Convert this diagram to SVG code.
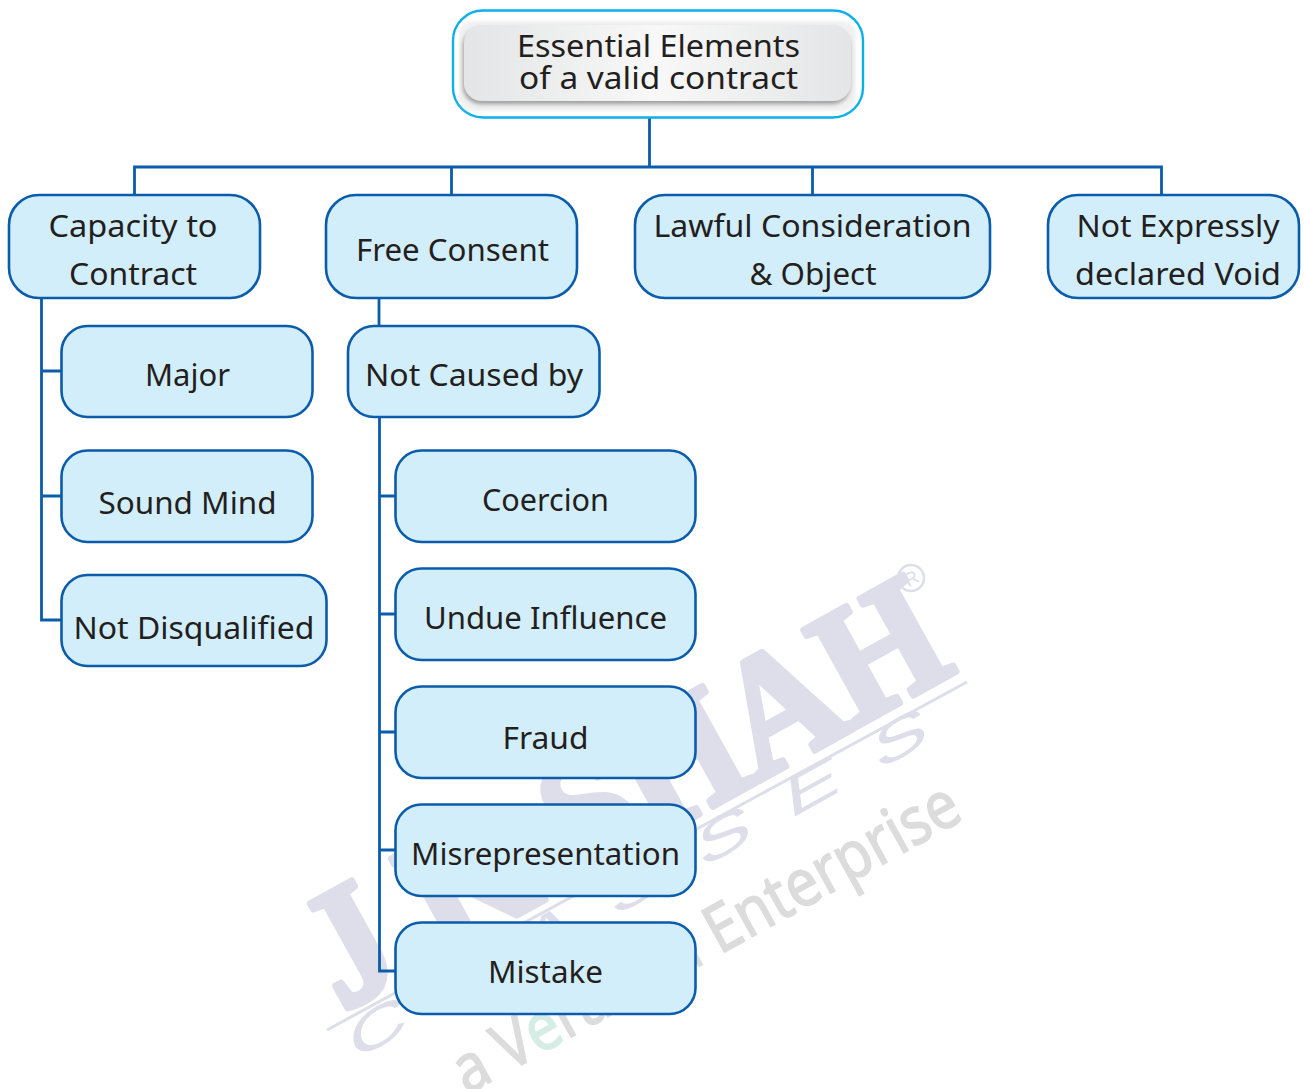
<svg xmlns="http://www.w3.org/2000/svg" width="1304" height="1089" viewBox="0 0 1304 1089">
<style>
.box{fill:#d3eefb;stroke:#0b5cab;stroke-width:2.6}
.t{font-family:"Noto Sans","DejaVu Sans",sans-serif;font-size:31px;fill:#231f20;text-anchor:middle}
.c{fill:none;stroke:#0b5cab;stroke-width:2.8}
.wm{font-family:"Liberation Serif",serif;font-weight:bold;font-size:168px;fill:#dedeea;stroke:#dedeea;stroke-width:7;stroke-linejoin:round}
.wm2{font-family:"Liberation Sans",sans-serif;font-size:62px;fill:#dedeea}
.wm3{font-family:"Noto Sans",sans-serif;font-size:66px;fill:#dcdcdc;stroke:#dcdcdc;stroke-width:1.5}
</style>
<defs>
<linearGradient id="g" x1="0" x2="1" y1="0" y2="0"><stop offset="0" stop-color="#e4e5e6"/><stop offset=".5" stop-color="#f8f8f8"/><stop offset="1" stop-color="#e4e5e6"/></linearGradient>
<filter id="s" x="-5%" y="-15%" width="110%" height="130%"><feDropShadow dx="-1" dy="3" stdDeviation="2" flood-color="#777" flood-opacity=".7"/></filter>
<filter id="b" x="-5%" y="-15%" width="110%" height="130%"><feGaussianBlur stdDeviation="1.5"/></filter>
</defs>
<rect width="1304" height="1089" fill="#fff"/>
<g id="watermark">
<g transform="translate(342,1012) rotate(-29)"><text class="wm" textLength="705" lengthAdjust="spacingAndGlyphs">J K SHAH</text></g>
<line x1="327" y1="1030" x2="967" y2="682" stroke="#dedeea" stroke-width="3"/>
<g transform="translate(352,1062) rotate(-29) skewX(-22) scale(1.45,.85)"><text class="wm2" textLength="455" lengthAdjust="spacing">CLASSES</text></g>
<g transform="translate(467,1095) rotate(-29)"><text class="wm3" textLength="570" lengthAdjust="spacingAndGlyphs">a V<tspan fill="#d5ede4" stroke="#d5ede4">e</tspan>randa Enterprise</text></g>
<circle cx="911" cy="578" r="13" fill="none" stroke="#dedeea" stroke-width="2.5"/>
<text x="911" y="585" font-family="Liberation Sans,sans-serif" font-size="19" fill="#dedeea" text-anchor="middle" transform="rotate(-29 911 578)">R</text>
</g>
<g id="connectors">
<path class="c" d="M649.500 117V167M134.500 195V167H1161.500V195M451.500 167V195M812.500 167V195"/>
<path class="c" d="M41.500 298V620H62M41.500 371H62M41.500 496H62"/>
<path class="c" d="M379 298V326M379.500 417V971H396M379.500 496H396M379.500 614H396M379.500 732H396M379.500 850H396"/>
</g>
<g id="root">
<rect x="453" y="10.500" width="410" height="107" rx="30" fill="#fff" stroke="#0db0e8" stroke-width="2.4"/>
<rect x="459" y="21" width="397" height="90" rx="14" fill="#f1f1f1" filter="url(#b)"/>
<rect x="464" y="25" width="387" height="76" rx="18" fill="url(#g)" filter="url(#s)"/>
<text class="t" x="658.500" y="57" textLength="283" lengthAdjust="spacingAndGlyphs">Essential Elements</text>
<text class="t" x="658.500" y="89" textLength="279" lengthAdjust="spacingAndGlyphs">of a valid contract</text>
</g>
<g id="capacity"><rect class="box" x="9" y="195" width="251" height="103" rx="30"/>
<text class="t" x="133" y="237" textLength="169" lengthAdjust="spacingAndGlyphs">Capacity to</text>
<text class="t" x="133" y="285" textLength="128" lengthAdjust="spacingAndGlyphs">Contract</text></g>
<g id="free"><rect class="box" x="326" y="195" width="251" height="103" rx="30"/>
<text class="t" x="452.500" y="261" textLength="193" lengthAdjust="spacingAndGlyphs">Free Consent</text></g>
<g id="lawful"><rect class="box" x="635" y="195" width="355" height="103" rx="30"/>
<text class="t" x="812.500" y="237" textLength="318" lengthAdjust="spacingAndGlyphs">Lawful Consideration</text>
<text class="t" x="813" y="285" textLength="127" lengthAdjust="spacingAndGlyphs">&amp; Object</text></g>
<g id="void"><rect class="box" x="1048" y="195" width="251" height="103" rx="30"/>
<text class="t" x="1178" y="237" textLength="203" lengthAdjust="spacingAndGlyphs">Not Expressly</text>
<text class="t" x="1178" y="285" textLength="206" lengthAdjust="spacingAndGlyphs">declared Void</text></g>
<g id="major"><rect class="box" x="61.500" y="326" width="251" height="91" rx="26"/>
<text class="t" x="187.500" y="386" textLength="85" lengthAdjust="spacingAndGlyphs">Major</text></g>
<g id="sound"><rect class="box" x="61.500" y="450.500" width="251" height="91.500" rx="26"/>
<text class="t" x="187.500" y="514" textLength="178" lengthAdjust="spacingAndGlyphs">Sound Mind</text></g>
<g id="disq"><rect class="box" x="61.500" y="575" width="265" height="91" rx="26"/>
<text class="t" x="194" y="639" textLength="241" lengthAdjust="spacingAndGlyphs">Not Disqualified</text></g>
<g id="caused"><rect class="box" x="348" y="326" width="251.500" height="91" rx="26"/>
<text class="t" x="474" y="386" textLength="218" lengthAdjust="spacingAndGlyphs">Not Caused by</text></g>
<g id="coercion"><rect class="box" x="395.500" y="450.500" width="300" height="91.500" rx="26"/>
<text class="t" x="545.500" y="511" textLength="127" lengthAdjust="spacingAndGlyphs">Coercion</text></g>
<g id="undue"><rect class="box" x="395.500" y="568.500" width="300" height="91.500" rx="26"/>
<text class="t" x="545.500" y="629" textLength="243" lengthAdjust="spacingAndGlyphs">Undue Influence</text></g>
<g id="fraud"><rect class="box" x="395.500" y="686.500" width="300" height="91.500" rx="26"/>
<text class="t" x="545.500" y="749" textLength="86" lengthAdjust="spacingAndGlyphs">Fraud</text></g>
<g id="misrep"><rect class="box" x="395.500" y="804.500" width="300" height="91.500" rx="26"/>
<text class="t" x="545.500" y="865" textLength="269" lengthAdjust="spacingAndGlyphs">Misrepresentation</text></g>
<g id="mistake"><rect class="box" x="395.500" y="922.500" width="300" height="91.500" rx="26"/>
<text class="t" x="545.500" y="983" textLength="115" lengthAdjust="spacingAndGlyphs">Mistake</text></g>
</svg>
